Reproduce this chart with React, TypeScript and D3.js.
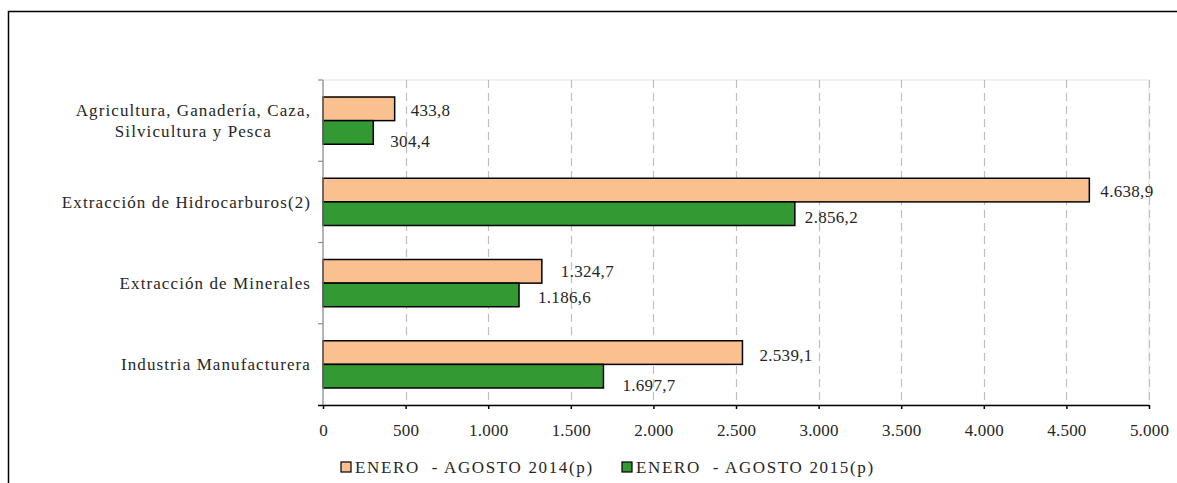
import React, { useEffect, useRef } from "react";
import * as d3 from "d3";

// sectors (top to bottom), two-line labels split with "\n"
const categories = [
  "Agricultura, Ganadería, Caza,\nSilvicultura y Pesca",
  "Extracción de Hidrocarburos(2)",
  "Extracción de Minerales",
  "Industria Manufacturera",
];
const seriesNames = ["ENERO  - AGOSTO 2014(p)", "ENERO  - AGOSTO 2015(p)"];
const values2014 = [433.8, 4638.9, 1324.7, 2539.1];
const values2015 = [304.4, 2856.2, 1186.6, 1697.7];
const xMax = 5000;
const xStep = 500;

const colors = ["#FAC090", "#339933"];
// label nudges (px) copied from the hand placed labels in the original
const labelDx = [
  [16, 11, 19, 17],
  [17, 10, 19, 19],
];
const labelDy = [
  [1.5, 1, 0, 2.5],
  [8.5, 3, 2, 8.5],
];

const W = 1177;
const H = 483;
const FONT = "'Liberation Serif', 'DejaVu Serif', serif";

const App = () => {
  const ref = useRef<SVGSVGElement>(null);

  useEffect(() => {
    const svg = d3.select(ref.current);
    svg.selectAll("*").remove();

    const locale = d3.formatLocale({
      decimal: ",",
      thousands: ".",
      grouping: [3],
      currency: ["", ""],
    });
    const fmtTick = locale.format(",.0f");
    const fmtVal = locale.format(",.1f");

    const margin = { left: 323, right: W - 1149, top: 80, bottom: H - 405 };

    // outer frame
    svg
      .append("path")
      .attr("d", `M8.5,${H}V11.5H${W}`)
      .attr("fill", "none")
      .attr("stroke", "#000")
      .attr("stroke-width", 1.5);

    const x = d3.scaleLinear().domain([0, xMax]).range([margin.left, W - margin.right]);
    const y = d3
      .scaleBand()
      .domain(categories)
      .range([margin.top, H - margin.bottom])
      .padding(0);
    const sub = d3
      .scaleBand()
      .domain(seriesNames)
      .range([0, y.bandwidth()])
      .paddingInner(0)
      .paddingOuter(0.72);

    const ticks = d3.range(0, xMax + 1, xStep);

    // plot area border
    svg
      .append("rect")
      .attr("x", x(0))
      .attr("y", margin.top)
      .attr("width", x(xMax) - x(0))
      .attr("height", H - margin.bottom - margin.top)
      .attr("fill", "none")
      .attr("stroke", "#e3e3e3")
      .attr("stroke-width", 1);

    // dashed gridlines
    svg
      .append("g")
      .selectAll("line")
      .data(ticks.slice(1))
      .join("line")
      .attr("x1", (d) => Math.round(x(d)) + 0.5)
      .attr("x2", (d) => Math.round(x(d)) + 0.5)
      .attr("y1", margin.top)
      .attr("y2", H - margin.bottom)
      .attr("stroke", "#bfbfbf")
      .attr("stroke-width", 1.2)
      .attr("stroke-dasharray", "8,5");

    // bars
    const series = [values2014, values2015];
    series.forEach((vals, s) => {
      svg
        .append("g")
        .selectAll("rect")
        .data(vals)
        .join("rect")
        .attr("x", x(0))
        .attr("y", (d, i) => (y(categories[i]) as number) + (sub(seriesNames[s]) as number))
        .attr("width", (d) => x(d) - x(0))
        .attr("height", sub.bandwidth())
        .attr("fill", colors[s])
        .attr("stroke", "#000")
        .attr("stroke-width", 1.5);

      svg
        .append("g")
        .selectAll("text")
        .data(vals)
        .join("text")
        .attr("x", (d, i) => x(d) + labelDx[s][i])
        .attr(
          "y",
          (d, i) =>
            (y(categories[i]) as number) +
            (sub(seriesNames[s]) as number) +
            sub.bandwidth() / 2 +
            labelDy[s][i]
        )
        .attr("dy", "0.35em")
        .attr("font-family", FONT)
        .attr("font-size", 17)
        .attr("letter-spacing", 0.3)
        .attr("fill", "#262626")
        .text((d) => fmtVal(d));
    });

    // y axis (gray) with ticks at band edges
    const yAxis = svg.append("g").attr("stroke", "#8c8c8c").attr("stroke-width", 1.2);
    yAxis
      .append("line")
      .attr("x1", x(0))
      .attr("x2", x(0))
      .attr("y1", margin.top)
      .attr("y2", H - margin.bottom);
    yAxis
      .selectAll("line.t")
      .data(categories.map((c) => y(c) as number))
      .join("line")
      .attr("class", "t")
      .attr("x1", x(0) - 5)
      .attr("x2", x(0))
      .attr("y1", (d) => d)
      .attr("y2", (d) => d);

    // x axis
    const xAxis = d3
      .axisBottom(x)
      .tickValues(ticks)
      .tickSize(4)
      .tickPadding(15)
      .tickFormat((d) => fmtTick(d as number));
    const gx = svg
      .append("g")
      .attr("transform", `translate(0,${H - margin.bottom})`)
      .call(xAxis);
    gx.select(".domain").attr("d", `M${x(0) - 5},0.5H${x(xMax)}`).attr("stroke-width", 1.5);
    gx.selectAll(".tick line").attr("stroke-width", 1.5);
    gx.selectAll(".tick text")
      .attr("font-family", FONT)
      .attr("font-size", 17)
      .attr("letter-spacing", 0.2)
      .attr("fill", "#262626");

    // category labels, multi-line ones centred on their widest line
    const labelRight = 311;
    categories.forEach((c) => {
      const lines = c.split("\n");
      const cy = (y(c) as number) + y.bandwidth() / 2;
      const lh = 21;
      const t = svg
        .append("text")
        .attr("font-family", FONT)
        .attr("font-size", 17)
        .attr("letter-spacing", 1.1)
        .attr("fill", "#262626")
        .attr("text-anchor", "middle");
      const spans = lines.map((l, k) =>
        t
          .append("tspan")
          .attr("y", cy + (k - (lines.length - 1) / 2) * lh)
          .attr("dy", "0.35em")
          .text(l)
      );
      const widest = d3.max(spans, (sp) => (sp.node() as SVGTSpanElement).getComputedTextLength()) || 0;
      spans.forEach((sp) => sp.attr("x", labelRight - widest / 2));
    });

    // legend
    const leg = svg.append("g");
    const legX = [341, 622];
    seriesNames.forEach((n, s) => {
      leg
        .append("rect")
        .attr("x", legX[s])
        .attr("y", 462)
        .attr("width", 10)
        .attr("height", 10)
        .attr("fill", colors[s])
        .attr("stroke", "#000")
        .attr("stroke-width", 1.2);
      leg
        .append("text")
        .attr("x", legX[s] + 14)
        .attr("y", 467)
        .attr("dy", "0.35em")
        .attr("font-family", FONT)
        .attr("font-size", 17)
        .attr("letter-spacing", 1.65)
        .attr("fill", "#262626")
        .style("white-space", "pre")
        .text(n);
    });
  }, []);

  return (
    <svg
      ref={ref}
      width={W}
      height={H}
      style={{ position: "absolute", left: 0, top: 0, background: "#fff" }}
    />
  );
};

export default App;
